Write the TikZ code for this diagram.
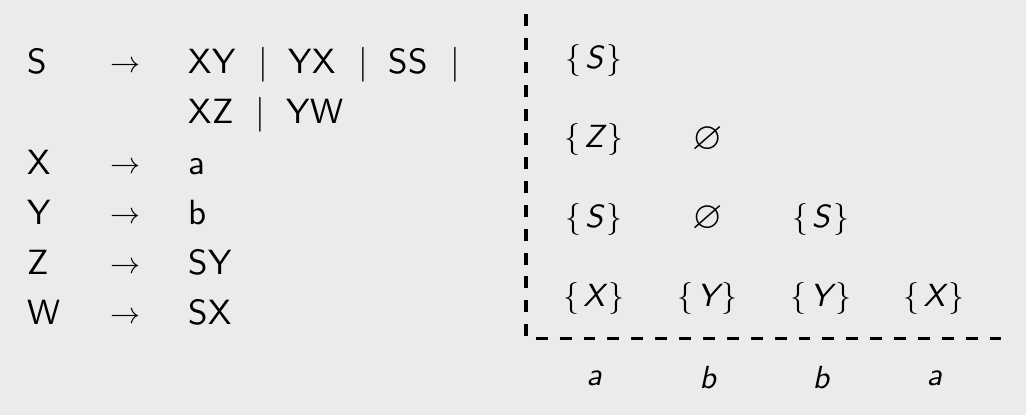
\RequirePackage{fix-cm}
\documentclass[tikz,border=0pt]{standalone}
\usepackage{amssymb}
\usepackage{graphicx}
\definecolor{bgc}{RGB}{235,235,235}
\newcommand\GTxt[1]{\scalebox{3.5}{\fontsize{10}{12}\selectfont\sffamily #1}}
\newcommand\GSym[1]{\scalebox{3.5}{\fontsize{10}{12}\selectfont$#1$}}
\newcommand\GArr{\scalebox{3}{\fontsize{10}{12}\selectfont$\rightarrow$}}
\newcommand\GCell[1]{\scalebox{3.2}{\fontsize{10}{12}\selectfont$#1$}}
\newcommand\GEmpty{\scalebox{3.9}{\fontsize{10}{12}\selectfont$\varnothing$}}
\newcommand\GSet[1]{\GCell{\{\mkern2mu\textsf{\itshape #1}\mkern2mu\}}}
\newcommand\GLet[1]{\scalebox{3.2}{\fontsize{10}{12}\selectfont\sffamily\itshape #1}}
\begin{document}
\begin{tikzpicture}[x=1pt,y=-1pt,
  lhs/.style={anchor=base west, inner sep=0pt},
  arr/.style={anchor=base, inner sep=0pt},
  bar/.style={anchor=base, inner sep=0pt},
  cell/.style={anchor=center, inner sep=0pt},
  axisline/.style={line width=3.3pt, dash pattern=on 11.9pt off 11.98pt}]
\fill[bgc] (0,0) rectangle (1026,415);
% grammar
\node[lhs] (lS) at (27,73.3) {\GTxt{S}};
\node[arr] (aS) at (125,72.5) {\GArr};
\node[lhs] (r1a) at (188.5,73.3) {\GTxt{XY}};
\node[bar] (b1) at (263.3,73.3) {\GSym{|}};
\node[lhs] (r1b) at (288.5,73.3) {\GTxt{YX}};
\node[bar] (b2) at (363.3,73.3) {\GSym{|}};
\node[lhs] (r1c) at (388.5,73.3) {\GTxt{SS}};
\node[bar] (b3) at (455,73.3) {\GSym{|}};
\node[lhs] (r2a) at (188.5,123.3) {\GTxt{XZ}};
\node[bar] (b4) at (260.7,123.3) {\GSym{|}};
\node[lhs] (r2b) at (286.5,123.3) {\GTxt{YW}};
\node[lhs] (lX) at (27.5,174) {\GTxt{X}};
\node[arr] (aX) at (125,173.2) {\GArr};
\node[lhs] (rX) at (188.5,174) {\GTxt{a}};
\node[lhs] (lY) at (27.5,224) {\GTxt{Y}};
\node[arr] (aY) at (125,223.2) {\GArr};
\node[lhs] (rY) at (188.5,224) {\GTxt{b}};
\node[lhs] (lZ) at (27.5,274) {\GTxt{Z}};
\node[arr] (aZ) at (125,273.2) {\GArr};
\node[lhs] (rZ) at (188.5,274) {\GTxt{SY}};
\node[lhs] (lW) at (27.5,324) {\GTxt{W}};
\node[arr] (aW) at (125,323.2) {\GArr};
\node[lhs] (rW) at (188.5,324) {\GTxt{SX}};
% table axes
\coordinate (top) at (526,13.8);
\coordinate (corner) at (526,338.3);
\coordinate (end) at (1002,338.3);
\draw[axisline] (top) -- (corner) -- (end);
% CYK cells
\node[cell] (c11) at (594,60.4) {\GSet{S}};
\node[cell] (c21) at (594,139.9) {\GSet{Z}};
\node[cell] (c22) at (707.7,139.7) {\GEmpty};
\node[cell] (c31) at (594,219.3) {\GSet{S}};
\node[cell] (c32) at (707.7,219.1) {\GEmpty};
\node[cell] (c33) at (820.8,219.3) {\GSet{S}};
\node[cell] (c41) at (594,298.8) {\GSet{X}};
\node[cell] (c42) at (707.7,298.8) {\GSet{Y}};
\node[cell] (c43) at (820.8,298.8) {\GSet{Y}};
\node[cell] (c44) at (934.2,298.8) {\GSet{X}};
% input word
\node[cell] (w1) at (594,377.9) {\GLet{a}};
\node[cell] (w2) at (707.7,377.9) {\GLet{b}};
\node[cell] (w3) at (820.8,377.9) {\GLet{b}};
\node[cell] (w4) at (934.2,377.9) {\GLet{a}};
\end{tikzpicture}
\end{document}
